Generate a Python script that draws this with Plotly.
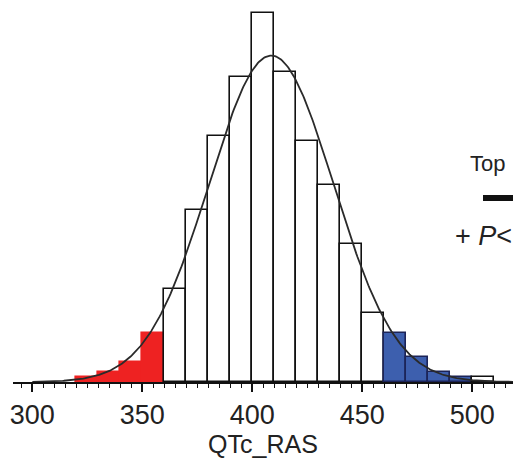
import numpy as np
import plotly.graph_objects as go

# Histogram data (bin left edges, bin width 10)
bin_left = [320, 330, 340, 350, 360, 370, 380, 390, 400, 410, 420, 430, 440, 450, 460, 470, 480, 490, 500]
counts = [1, 2, 4, 10, 19, 35, 50, 62, 75, 63, 49, 40, 28, 14, 10, 5, 2, 1, 1]
# group: 'low' (red), 'mid' (white), 'high' (blue)
groups = ['low', 'low', 'low', 'low', 'mid', 'mid', 'mid', 'mid', 'mid', 'mid', 'mid', 'mid', 'mid', 'mid',
          'high', 'high', 'high', 'high', 'mid']
bin_width = 10
fit_mean = 408.6
fit_sd = 28.3
tick_vals = [300, 350, 400, 450, 500]
x_title = "QTc_RAS"

fill_map = {'low': '#ee2222', 'mid': '#ffffff', 'high': '#3d5fae'}
line_map = {'low': '#ee2222', 'mid': '#111111', 'high': '#1c2458'}

mids = [b + bin_width / 2 for b in bin_left]
fig = go.Figure()
fig.add_trace(go.Bar(
    x=mids, y=counts, width=[bin_width] * len(mids),
    marker=dict(color=[fill_map[g] for g in groups],
                line=dict(color=[line_map[g] for g in groups], width=1.6)),
    showlegend=False, hoverinfo='skip'))

n_total = sum(counts)
xs = np.linspace(300, 520, 400)
ys = n_total * bin_width * np.exp(-0.5 * ((xs - fit_mean) / fit_sd) ** 2) / (fit_sd * np.sqrt(2 * np.pi))
fig.add_trace(go.Scatter(x=xs, y=ys, mode='lines', line=dict(color='#2a2a2a', width=1.8),
                         showlegend=False, hoverinfo='skip'))

font_family = "Liberation Sans, Arial, sans-serif"
fig.update_layout(
    width=513, height=466,
    margin=dict(l=13, r=0, t=8, b=84),
    paper_bgcolor='white', plot_bgcolor='white',
    bargap=0,
    font=dict(family=font_family, color='#222222'),
    xaxis=dict(range=[291.2, 518.5], showline=True, linecolor='#111111', linewidth=1.6,
               showgrid=False, zeroline=False,
               tickmode='array', tickvals=tick_vals, ticks='outside', ticklen=8, tickwidth=1.6,
               tickcolor='#111111', tickfont=dict(size=27, color='#222222'),
               minor=dict(dtick=5, tick0=300, ticks='outside', ticklen=4, tickwidth=1.2, tickcolor='#111111',
                          showgrid=False),
               title=dict(text=x_title, font=dict(size=25, color='#222222'), standoff=2)),
    yaxis=dict(range=[0, 374 / 4.916], visible=False, fixedrange=True),
    annotations=[
        dict(xref='paper', yref='paper', x=0.91, y=0.585, text='Top', showarrow=False,
             xanchor='left', yanchor='middle', font=dict(size=22, color='#222222')),
        dict(xref='paper', yref='paper', x=0.88, y=0.39, text='+ <i>P</i>&lt;', showarrow=False,
             xanchor='left', yanchor='middle', font=dict(size=27, color='#222222')),
    ],
    shapes=[dict(type='line', xref='paper', yref='paper', x0=0.94, x1=1.05, y0=0.492, y1=0.492,
                 line=dict(color='#111111', width=6))],
)

fig.write_html("out.html", config={'displayModeBar': False},
               post_script="document.body.style.margin='0';document.body.style.overflow='hidden';")
